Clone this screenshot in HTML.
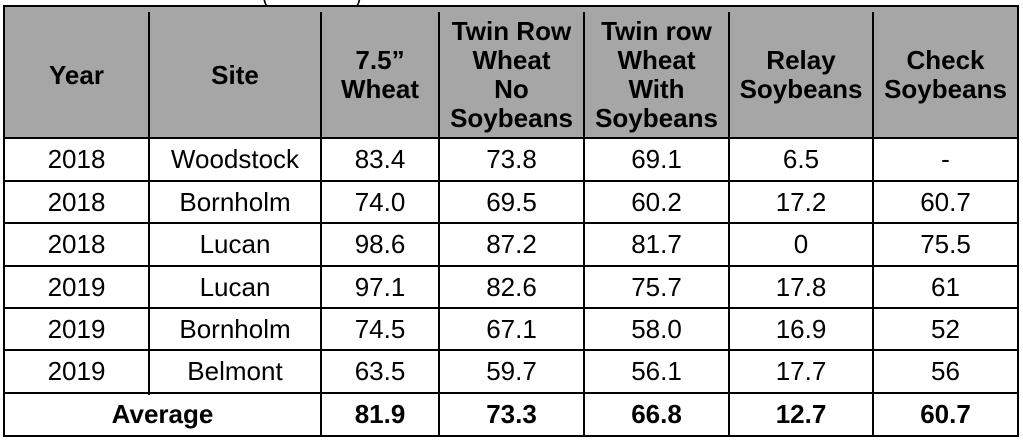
<!DOCTYPE html>
<html><head><meta charset="utf-8"><style>
body{margin:0;width:1023px;height:441px;background:#fff;position:relative;overflow:hidden;font-family:"Liberation Sans",Arial,sans-serif;color:#000}
.hdr{position:absolute;left:4px;top:5px;width:1014px;height:133px;background:#a6a6a6;border-top:2px solid #000;box-sizing:border-box}
.v{position:absolute;width:2px;background:#000}
.h{position:absolute;height:2px;background:#000;left:4px;width:1015px}
.c{position:absolute;display:flex;align-items:center;justify-content:center;text-align:center;font-size:26px}
.b{font-weight:bold}
.hd{font-weight:bold;font-size:26px;line-height:29px}
</style></head><body>
<div style="position:absolute;left:262px;top:-14px;font-size:20px">(</div>
<div style="position:absolute;left:355px;top:-14px;font-size:20px">)</div>
<div class="hdr"></div>
<div class="v" style="left:3px;top:5px;height:432px"></div>
<div class="v" style="left:1017px;top:5px;height:432px"></div>
<div class="v" style="left:148px;top:12px;height:383px"></div>
<div class="v" style="left:320px;top:12px;height:425px"></div>
<div class="v" style="left:438px;top:12px;height:425px"></div>
<div class="v" style="left:583px;top:12px;height:425px"></div>
<div class="v" style="left:728px;top:12px;height:425px"></div>
<div class="v" style="left:872px;top:12px;height:425px"></div>
<div class="h" style="top:137px"></div>
<div class="h" style="top:180px"></div>
<div class="h" style="top:222px"></div>
<div class="h" style="top:265px"></div>
<div class="h" style="top:307px"></div>
<div class="h" style="top:349px"></div>
<div class="h" style="top:392px"></div>
<div class="h" style="top:435px"></div>
<div id="t"></div>
<script>
var cols=[[4,149],[149,321],[321,439],[439,584],[584,729],[729,873],[873,1018]];
var hd=["Year","Site","7.5”<br>Wheat","Twin Row<br>Wheat<br>No<br>Soybeans","Twin row<br>Wheat<br>With<br>Soybeans","Relay<br>Soybeans","Check<br>Soybeans"];
var rows=[["2018","Woodstock","83.4","73.8","69.1","6.5","-"],["2018","Bornholm","74.0","69.5","60.2","17.2","60.7"],["2018","Lucan","98.6","87.2","81.7","0","75.5"],["2019","Lucan","97.1","82.6","75.7","17.8","61"],["2019","Bornholm","74.5","67.1","58.0","16.9","52"],["2019","Belmont","63.5","59.7","56.1","17.7","56"]];
var ys=[138,181,223,266,308,350,393,436];var h="";
cols.forEach(function(c,i){h+='<div class="c hd" style="left:'+c[0]+'px;top:12px;width:'+(c[1]-c[0])+'px;height:126px">'+hd[i]+'</div>';});
rows.forEach(function(r,j){cols.forEach(function(c,i){h+='<div class="c" style="left:'+c[0]+'px;top:'+ys[j]+'px;width:'+(c[1]-c[0])+'px;height:'+(ys[j+1]-ys[j])+'px">'+r[i]+'</div>';});});
var avg=["Average","81.9","73.3","66.8","12.7","60.7"];
var ac=[[4,321]].concat(cols.slice(2));
ac.forEach(function(c,i){h+='<div class="c b" style="left:'+c[0]+'px;top:393px;width:'+(c[1]-c[0])+'px;height:43px">'+avg[i]+'</div>';});
document.getElementById("t").innerHTML=h;
</script>
</body></html>
